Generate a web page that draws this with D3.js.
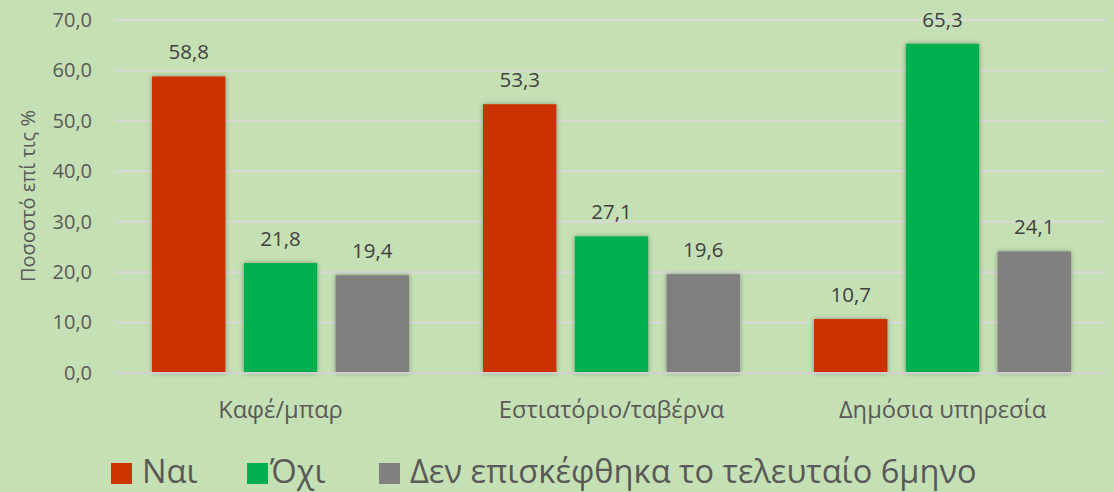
<!DOCTYPE html>
<html>
<head>
<meta charset="utf-8">
<script src="https://cdn.jsdelivr.net/npm/d3@7"></script>
<style>
  body { margin: 0; background: #c5e0b4; }
  svg { display: block; }
  svg text { font-family: "Open Sans", "Noto Sans", sans-serif; }
</style>
</head>
<body>
<svg id="chart" width="1114" height="492"></svg>
<script>
var categories = ["Καφέ/μπαρ", "Εστιατόριο/ταβέρνα", "Δημόσια υπηρεσία"];
var seriesNames = ["Ναι", "Όχι", "Δεν επισκέφθηκα το τελευταίο 6μηνο"];
var valuesYes = [58.8, 53.3, 10.7];
var valuesNo = [21.8, 27.1, 65.3];
var valuesNotVisited = [19.4, 19.6, 24.1];
var yTicks = [0, 10, 20, 30, 40, 50, 60, 70];
var colors = ["#cc3300", "#00b050", "#808080"];

var svg = d3.select("#chart"),
    margin = {top: 20, right: 6, bottom: 119, left: 115},
    width = +svg.attr("width") - margin.left - margin.right,
    height = +svg.attr("height") - margin.top - margin.bottom;

svg.append("rect").attr("width", 1114).attr("height", 492).attr("fill", "#c5e0b4");

var defs = svg.append("defs");
var shadow = defs.append("filter").attr("id", "shadow")
    .attr("x", "-20%").attr("y", "-10%").attr("width", "140%").attr("height", "120%");
shadow.append("feDropShadow").attr("dx", 0).attr("dy", 0).attr("stdDeviation", 2.5)
    .attr("flood-color", "#000").attr("flood-opacity", 0.35);

var g = svg.append("g").attr("transform", "translate(" + margin.left + "," + margin.top + ")");

var data = categories.map(function (c, i) {
    return {cat: c, vals: [valuesYes[i], valuesNo[i], valuesNotVisited[i]]};
});

var x0 = d3.scaleBand().domain(categories).range([0, width]).paddingInner(0).paddingOuter(0);
var x1 = d3.scaleBand().domain([0, 1, 2]).range([37, x0.bandwidth() - 37]).paddingInner(0.2).paddingOuter(0);
var y = d3.scaleLinear().domain([0, 70]).range([height, 0]);

var fmt = function (v) { return d3.format(".1f")(v).replace(".", ","); };

// gridlines
g.append("g").selectAll("line")
    .data(yTicks.slice(1))
    .enter().append("line")
    .attr("x1", 0).attr("x2", width - 2)
    .attr("y1", function (d) { return y(d); })
    .attr("y2", function (d) { return y(d); })
    .attr("stroke", "#d9d9d9").attr("stroke-width", 2);

// y axis labels
var yAxis = g.append("g")
    .call(d3.axisLeft(y).tickValues(yTicks).tickFormat(fmt).tickSize(0).tickPadding(23));
yAxis.attr("font-family", null).attr("font-size", null);
yAxis.select(".domain").remove();
yAxis.selectAll("text").attr("fill", "#595959").style("font-size", "20px");

// bars
var groups = g.append("g").selectAll("g")
    .data(data)
    .enter().append("g")
    .attr("transform", function (d) { return "translate(" + x0(d.cat) + ",0)"; });

groups.selectAll("rect")
    .data(function (d) { return d.vals; })
    .enter().append("rect")
    .attr("x", function (d, i) { return x1(i); })
    .attr("y", function (d) { return y(d); })
    .attr("width", x1.bandwidth())
    .attr("height", function (d) { return y(0) - y(d); })
    .attr("fill", function (d, i) { return colors[i]; })
    .attr("filter", "url(#shadow)");

groups.selectAll("text")
    .data(function (d) { return d.vals; })
    .enter().append("text")
    .attr("x", function (d, i) { return x1(i) + x1.bandwidth() / 2; })
    .attr("y", function (d) { return y(d) - 17; })
    .attr("text-anchor", "middle")
    .attr("fill", "#404040")
    .style("font-size", "20.5px")
    .text(fmt);

// x axis line
g.append("line")
    .attr("x1", 0).attr("x2", width - 2)
    .attr("y1", y(0)).attr("y2", y(0))
    .attr("stroke", "#d0d0d0").attr("stroke-width", 2);

var xAxis = g.append("g")
    .attr("transform", "translate(0," + height + ")")
    .call(d3.axisBottom(x0).tickSize(0).tickPadding(0));
xAxis.attr("font-family", null).attr("font-size", null);
xAxis.select(".domain").remove();
xAxis.selectAll("text").attr("fill", "#595959").attr("dy", null).attr("y", 45)
    .style("font-size", "23.7px");

// y axis title
svg.append("text")
    .attr("transform", "translate(35," + 196 + ") rotate(-90)")
    .attr("text-anchor", "middle")
    .attr("fill", "#595959")
    .style("font-size", "20px")
    .text("Ποσοστό επί τις %");

// legend
var legendX = [111, 247, 379];
var legend = svg.append("g").selectAll("g")
    .data(seriesNames)
    .enter().append("g")
    .attr("transform", function (d, i) { return "translate(" + legendX[i] + ",463)"; });
legend.append("rect")
    .attr("width", 21).attr("height", 21)
    .attr("fill", function (d, i) { return colors[i]; });
legend.append("text")
    .attr("x", function (d, i) { return i === 1 ? 23 : 31; }).attr("y", 20)
    .attr("fill", "#595959")
    .style("font-size", "32.6px")
    .text(function (d) { return d; });
</script>
</body>
</html>
